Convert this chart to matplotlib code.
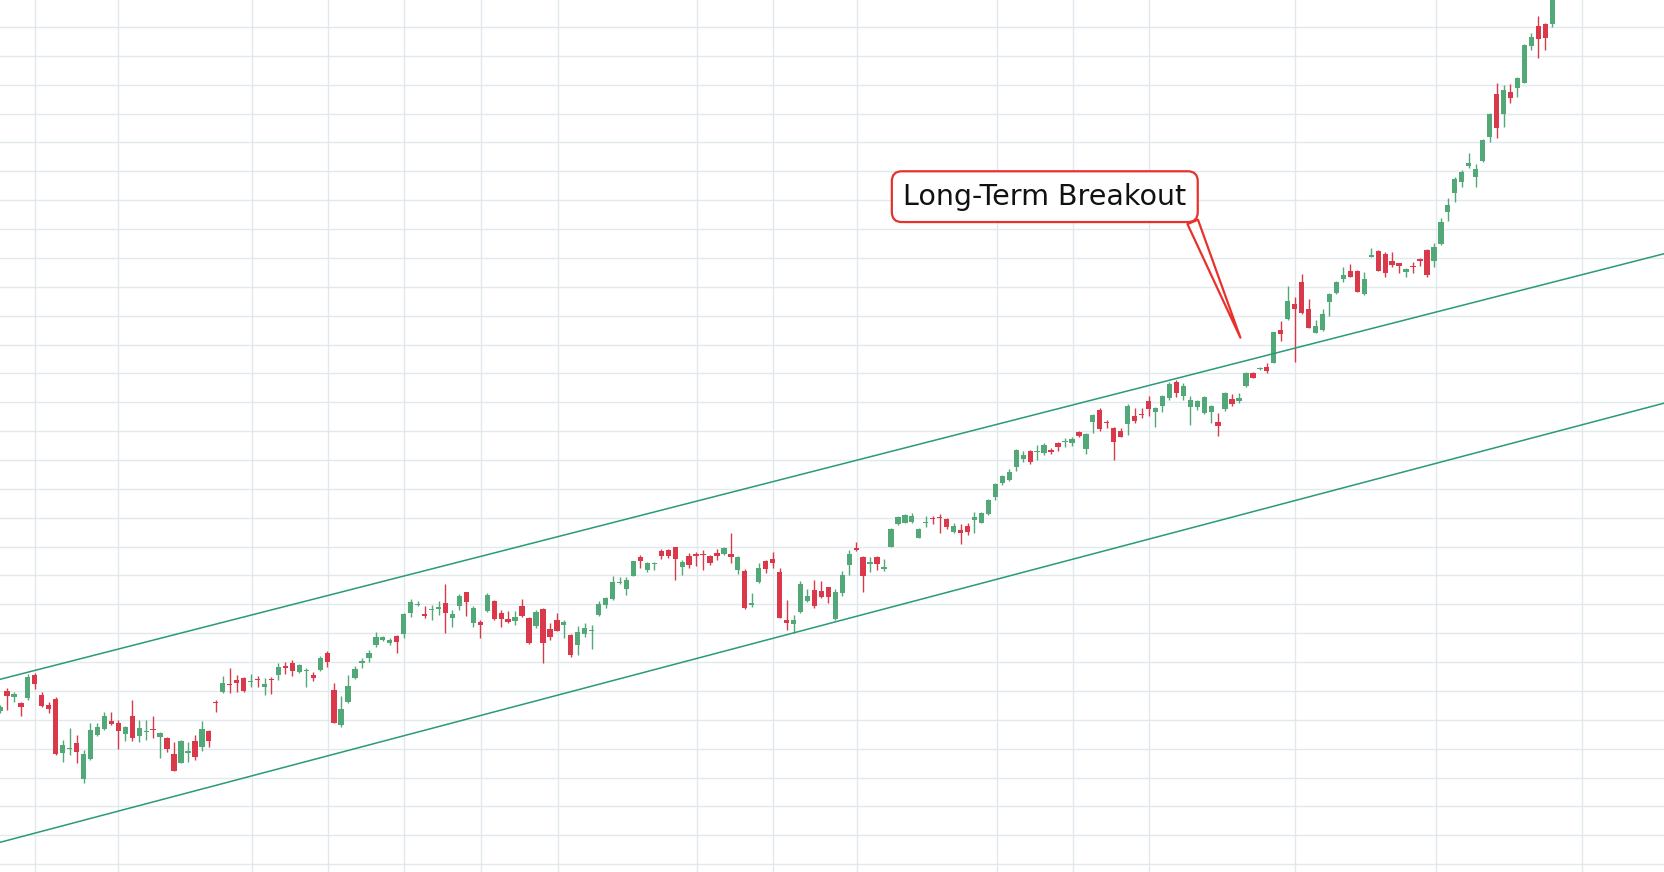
import numpy as np
import matplotlib
matplotlib.use("Agg")
import matplotlib.pyplot as plt

# daily OHLC (no axis labels on the original, scale is arbitrary)
opens = [48.4, 54.3, 52.6, 50.8, 52.3, 59.1, 53.1, 50.1, 51.9, 35.8,
         36.8, 38.6, 27.8, 33.8, 41.2, 43.0, 45.3, 44.7, 41.4, 46.8,
         40.9, 41.9, 43.0, 40.6, 40.2, 35.4, 32.8, 35.6, 39.3, 37.4,
         42.3, 50.9, 53.9, 56.5, 57.6, 58.1, 57.1, 58.0, 55.4, 57.9,
         59.2, 61.8, 62.6, 60.1, 60.2, 59.0, 60.6, 65.8, 54.6, 44.1,
         51.1, 58.1, 62.6, 64.3, 68.0, 69.5, 68.6, 70.8, 71.3, 77.6,
         80.1, 77.5, 78.5, 79.0, 80.8, 76.3, 79.9, 83.9, 74.6, 75.1,
         78.4, 81.3, 77.6, 75.9, 75.4, 79.8, 76.1, 73.8, 78.9, 72.8,
         75.6, 74.2, 71.1, 68.0, 71.3, 72.3, 77.1, 80.1, 82.0, 86.6,
         84.8, 88.9, 94.5, 90.6, 92.3, 96.3, 96.5, 97.5, 91.6, 94.8,
         95.5, 95.5, 94.8, 95.8, 95.3, 95.5, 90.6, 90.4, 80.2, 87.1,
         93.2, 94.0, 90.1, 75.6, 74.3, 78.1, 81.4, 84.6, 84.4, 85.5,
         76.0, 83.8, 92.0, 97.2, 94.4, 92.4, 94.4, 90.9, 97.6, 104.4,
         104.8, 105.1, 100.3, 104.6, 106.2, 106.5, 105.8, 102.1, 102.6, 103.8,
         105.6, 104.8, 107.4, 112.4, 116.6, 117.6, 121.6, 123.8, 126.3, 126.1,
         125.8, 126.6, 128.7, 128.9, 128.8, 132.0, 126.9, 135.1, 138.6, 134.9,
         133.1, 132.3, 134.3, 136.7, 137.4, 141.3, 138.1, 139.9, 142.2, 147.0,
         142.9, 139.6, 139.6, 137.8, 138.1, 135.0, 138.8, 141.8, 141.4, 145.9,
         149.6, 150.8, 151.5, 152.8, 162.6, 165.8, 170.3, 176.9, 168.8, 161.8,
         162.6, 171.1, 173.6, 177.9, 180.3, 180.3, 173.3, 184.6, 186.4, 185.4,
         183.3, 182.6, 180.1, 181.6, 183.9, 186.6, 183.4, 188.3, 198.1, 203.8,
         207.1, 211.9, 208.6, 213.4, 220.6, 233.4, 227.4, 234.0, 235.3, 236.8,
         247.9, 253.8, 254.4, 254.4]
highs = [50.1, 55.1, 54.1, 51.1, 59.4, 59.6, 54.1, 51.1, 52.6, 39.6,
         43.1, 41.1, 36.6, 44.6, 44.6, 47.9, 47.9, 45.6, 43.8, 51.6,
         45.6, 45.6, 46.9, 42.1, 40.6, 39.1, 39.6, 39.1, 41.1, 45.4,
         42.6, 51.6, 58.8, 61.1, 59.1, 58.6, 59.3, 58.8, 58.1, 58.4,
         62.6, 63.1, 63.6, 62.4, 61.3, 60.1, 64.8, 66.3, 56.8, 52.8,
         59.0, 61.8, 64.1, 66.6, 72.1, 70.9, 70.1, 71.0, 77.8, 81.9,
         81.4, 79.8, 80.1, 81.4, 86.3, 78.6, 83.4, 84.1, 79.8, 75.6,
         83.6, 81.6, 78.6, 78.4, 78.4, 81.8, 76.4, 78.6, 79.1, 74.6,
         77.8, 75.6, 71.3, 73.8, 74.8, 74.1, 81.3, 82.6, 88.8, 88.6,
         88.4, 93.4, 95.1, 93.1, 93.1, 96.8, 96.9, 97.6, 93.6, 95.6,
         96.0, 96.6, 95.1, 96.8, 97.6, 101.8, 94.8, 90.8, 83.8, 92.6,
         93.6, 95.9, 91.1, 81.6, 77.1, 87.3, 84.8, 87.6, 87.4, 85.6,
         84.8, 90.4, 96.6, 99.1, 94.8, 94.4, 94.8, 93.8, 103.1, 106.8,
         107.3, 107.6, 103.1, 106.9, 106.8, 107.3, 106.1, 104.6, 104.4, 104.8,
         108.1, 108.1, 111.8, 116.6, 119.1, 120.8, 126.8, 126.4, 126.6, 128.1,
         128.6, 127.1, 129.1, 130.3, 130.6, 132.2, 131.8, 137.4, 139.1, 135.6,
         133.6, 133.3, 140.3, 139.1, 139.1, 142.8, 139.6, 143.1, 147.0, 147.6,
         146.8, 142.8, 141.6, 142.8, 140.1, 137.8, 144.1, 143.4, 143.6, 150.1,
         150.1, 151.6, 152.8, 162.1, 165.3, 175.8, 172.6, 179.3, 171.8, 165.6,
         168.9, 173.8, 177.3, 181.6, 182.3, 180.6, 180.1, 187.1, 186.6, 186.1,
         186.1, 182.8, 181.1, 183.1, 184.1, 186.8, 188.6, 196.1, 202.1, 208.6,
         210.6, 215.8, 212.4, 219.8, 227.6, 236.6, 236.1, 236.4, 238.6, 248.3,
         251.8, 256.8, 254.6, 270.0]
lows = [47.6, 48.6, 51.1, 46.8, 51.6, 54.8, 49.6, 47.6, 35.1, 33.1,
        35.1, 32.6, 26.8, 33.6, 40.8, 42.6, 44.1, 36.8, 39.4, 39.4,
        38.9, 39.6, 40.1, 34.1, 36.1, 30.3, 32.6, 33.1, 33.6, 36.2,
        37.6, 48.1, 53.6, 53.6, 54.1, 54.1, 55.4, 55.6, 53.1, 53.3,
        57.6, 59.3, 58.8, 59.6, 55.4, 57.4, 60.3, 61.6, 44.6, 43.6,
        50.8, 57.8, 61.1, 63.1, 67.6, 69.4, 68.1, 65.8, 70.3, 76.6,
        79.8, 76.1, 75.6, 77.1, 71.6, 73.4, 78.6, 76.8, 73.4, 70.3,
        78.1, 75.6, 73.6, 74.6, 74.1, 76.4, 68.4, 73.1, 62.6, 69.6,
        72.3, 70.1, 64.6, 65.1, 70.6, 66.8, 76.8, 79.3, 81.6, 86.3,
        83.1, 88.8, 91.1, 89.9, 90.6, 93.9, 94.1, 87.6, 89.1, 91.3,
        91.9, 90.6, 92.1, 93.6, 95.0, 92.6, 89.4, 78.9, 79.6, 86.8,
        89.8, 91.1, 76.1, 72.6, 71.8, 77.8, 81.1, 79.3, 82.1, 80.6,
        75.6, 82.8, 89.1, 96.4, 84.1, 90.1, 90.6, 90.4, 97.4, 104.1,
        104.6, 104.8, 100.1, 103.4, 104.4, 101.8, 102.8, 101.8, 98.4, 101.1,
        101.6, 104.6, 107.1, 111.6, 116.1, 117.4, 120.4, 123.1, 122.4, 123.6,
        125.1, 125.3, 126.3, 127.4, 127.8, 130.6, 125.4, 131.6, 132.4, 133.3,
        123.6, 130.4, 131.1, 134.6, 136.1, 136.8, 133.4, 138.1, 141.6, 142.6,
        141.5, 134.1, 138.6, 137.4, 134.6, 130.8, 138.4, 139.8, 140.8, 145.6,
        148.1, 150.6, 149.6, 152.6, 159.4, 165.6, 153.1, 167.4, 163.1, 161.6,
        162.4, 166.8, 173.4, 177.1, 178.4, 173.9, 173.1, 184.4, 180.3, 178.4,
        181.6, 179.6, 178.6, 179.6, 181.8, 178.6, 181.6, 188.1, 195.4, 201.1,
        205.6, 211.1, 205.4, 213.1, 219.1, 220.1, 223.4, 230.6, 232.6, 236.6,
        246.6, 244.1, 246.6, 253.6]
closes = [49.4, 52.9, 53.5, 49.4, 58.6, 56.3, 49.9, 48.8, 35.4, 38.1,
          37.2, 36.1, 35.4, 42.6, 43.4, 46.8, 44.3, 42.4, 43.4, 40.3,
          43.1, 42.4, 42.7, 41.7, 37.0, 30.4, 39.3, 36.3, 34.4, 42.9,
          39.4, 50.6, 56.6, 56.0, 56.8, 54.4, 57.3, 57.5, 56.4, 57.5,
          61.6, 61.3, 60.4, 62.2, 60.4, 58.3, 64.1, 63.1, 44.8, 48.8,
          55.8, 60.8, 63.4, 65.8, 70.4, 70.4, 69.6, 69.1, 77.4, 80.9,
          80.4, 76.7, 78.8, 79.4, 77.6, 77.4, 82.8, 81.1, 79.1, 74.1,
          83.1, 75.8, 75.8, 75.1, 76.5, 76.8, 68.6, 78.0, 68.6, 70.6,
          72.4, 75.0, 65.1, 72.0, 73.1, 72.6, 80.3, 82.2, 86.9, 86.9,
          87.6, 93.3, 93.4, 92.6, 92.5, 94.9, 94.9, 93.9, 93.1, 92.2,
          94.7, 95.0, 92.8, 94.9, 97.2, 94.4, 94.6, 79.1, 80.7, 91.1,
          91.0, 92.8, 76.3, 74.6, 75.6, 86.4, 82.8, 79.8, 82.6, 82.6,
          84.0, 89.1, 95.4, 96.6, 88.8, 93.0, 92.4, 91.5, 102.9, 106.4,
          107.0, 106.8, 102.8, 104.9, 105.9, 106.2, 103.6, 103.8, 101.6, 102.0,
          106.4, 107.8, 111.6, 116.3, 118.8, 120.1, 126.6, 125.1, 123.1, 126.4,
          128.1, 126.1, 127.6, 129.2, 129.9, 130.9, 131.4, 137.1, 132.8, 134.6,
          129.1, 130.6, 139.9, 135.4, 137.2, 138.8, 139.1, 142.8, 146.4, 143.8,
          145.8, 141.6, 141.3, 142.6, 139.8, 133.9, 143.6, 140.3, 142.2, 149.6,
          148.3, 151.1, 150.4, 161.9, 161.3, 171.3, 168.8, 167.6, 163.3, 163.8,
          167.4, 173.4, 177.0, 179.1, 178.6, 174.1, 177.9, 185.1, 180.4, 179.8,
          182.1, 181.9, 180.8, 181.4, 183.4, 179.1, 187.6, 195.1, 200.1, 207.9,
          209.9, 212.8, 210.8, 219.6, 227.4, 223.1, 234.6, 232.3, 238.1, 248.1,
          250.4, 250.0, 250.3, 268.0]

# candle positions of the vertical grid lines (period starts)
period_marks = [5.1, 17.0, 36.2, 47.1, 58.0, 69.1, 80.1, 100.1, 111.1,
                123.1, 143.2, 154.1, 165.1, 186.1, 206.3, 227.3]

# trend channel anchors (candle index, price)
upper_channel = [(0, 57.8), (223, 176.9)]
lower_channel = [(0, 8.9), (223, 131.8)]

callout_text = "Long-Term Breakout"
callout_point = (178.2, 160.3)
callout_text_pos = (150.1, 202.6)

green = "#53a878"
red = "#d9394b"
teal = "#2a9a78"
grid_col = "#e2e9ed"
callout_col = "#e8312c"

o = np.array(opens)
h = np.array(highs)
l = np.array(lows)
c = np.array(closes)
x = np.arange(len(o))
colors = np.where(c >= o, green, red)

fig = plt.figure(figsize=(16.65, 8.72), dpi=100)
ax = fig.add_axes([0, 0, 1, 1])

# wicks then bodies
ax.vlines(x, l, h, colors=colors, linewidth=1.0, zorder=2)
body_bottom = np.minimum(o, c)
body_height = np.maximum(np.abs(c - o), 0.35)
ax.bar(x, body_height, bottom=body_bottom, width=0.76, color=colors,
       linewidth=0, zorder=3)

# channel lines run across the whole plot
ax.axline(upper_channel[0], upper_channel[1], color=teal, linewidth=1.1, zorder=4)
ax.axline(lower_channel[0], lower_channel[1], color=teal, linewidth=1.1, zorder=4)

ax.annotate(callout_text, xy=callout_point, xytext=callout_text_pos,
            ha="center", va="center", fontsize=20.5, color="#111111",
            bbox=dict(boxstyle="round,pad=0.4,rounding_size=0.35",
                      fc="white", ec=callout_col, lw=1.6),
            arrowprops=dict(arrowstyle="wedge,tail_width=0.4",
                            fc="white", ec=callout_col, lw=1.6,
                            relpos=(1.0, 0.15), shrinkA=0, shrinkB=0),
            zorder=6)

ax.set_xlim(0, 239.2)
ax.set_ylim(0, 261.6)
ax.set_xticks(period_marks)
ax.set_yticks(np.arange(253.5, 0, -8.66))
ax.grid(True, color=grid_col, linewidth=1.0, zorder=0)
ax.set_axisbelow(True)
ax.tick_params(length=0, labelbottom=False, labelleft=False)
for s in ax.spines.values():
    s.set_visible(False)

fig.savefig("out.png", dpi=100, facecolor="white")
